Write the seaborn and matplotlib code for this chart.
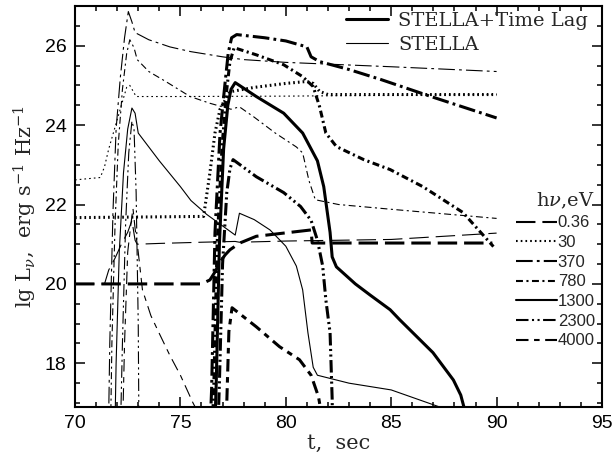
import matplotlib
matplotlib.use("Agg")
import matplotlib.pyplot as plt
from matplotlib.lines import Line2D
from matplotlib.ticker import MultipleLocator
import seaborn as sns
import pandas as pd

# ---------------- data ----------------
energies = ["0.36", "30", "370", "780", "1300", "2300", "4000"]

# STELLA + Time Lag (thick)
t_036_lag = [70, 76.0, 76.4, 76.64, 76.88, 77.12, 77.35, 77.82, 78.6, 79.9, 81.2, 81.25, 89.8]
L_036_lag = [20.0, 20.0, 20.1, 20.3, 20.55, 20.73, 20.86, 21.03, 21.2, 21.28, 21.36, 21.03, 21.03]

t_30_lag = [70, 76.1, 76.4, 76.64, 76.88, 77.35, 78.5, 80.0, 81.0, 81.3, 81.6, 82.0, 90]
L_30_lag = [21.67, 21.7, 22.8, 23.8, 24.4, 24.84, 24.95, 25.05, 25.1, 25.05, 24.85, 24.77, 24.77]

t_370_lag = [76.3, 76.48, 76.64, 76.88, 77.12, 77.27, 77.43, 77.67, 79.0, 80.0, 81.0, 81.2, 81.6, 83.0, 84.5, 87.0, 90]
L_370_lag = [15, 17.33, 21.29, 23.8, 25.07, 25.82, 26.2, 26.28, 26.2, 26.12, 25.97, 25.72, 25.6, 25.4, 25.15, 24.7, 24.18]

t_780_lag = [76.4, 76.58, 76.74, 76.98, 77.2, 77.35, 77.55, 78.6, 79.9, 80.8, 81.3, 81.6, 81.9, 82.4, 83.7, 84.95, 86.5, 88.4, 89.85]
L_780_lag = [15, 17.3, 21.0, 23.5, 24.9, 25.6, 25.95, 25.77, 25.52, 25.22, 24.97, 24.47, 23.8, 23.46, 23.13, 22.88, 22.45, 21.8, 20.94]

t_1300_lag = [76.55, 76.7, 76.85, 77.05, 77.25, 77.4, 77.6, 78.6, 79.9, 80.8, 81.5, 81.8, 82.1, 82.2, 82.4, 83.3, 84.0, 84.95, 85.4, 86.98, 87.95, 88.3, 88.45, 88.55]
L_1300_lag = [15, 17.5, 21.0, 23.4, 24.5, 24.9, 25.07, 24.72, 24.3, 23.8, 23.1, 22.45, 21.3, 20.68, 20.43, 20.0, 19.72, 19.35, 19.1, 18.27, 17.58, 17.2, 16.9, 15]

t_2300_lag = [76.7, 76.85, 77.0, 77.2, 77.35, 77.5, 78.6, 79.9, 80.7, 81.2, 81.5, 81.75, 81.9, 82.1, 82.2, 82.25]
L_2300_lag = [15, 17.5, 20.5, 22.3, 22.9, 23.13, 22.7, 22.3, 21.95, 21.6, 21.1, 20.45, 19.6, 18.77, 17.1, 15]

t_4000_lag = [77.15, 77.2, 77.3, 77.45, 78.6, 79.7, 80.65, 81.2, 81.55, 81.7]
L_4000_lag = [15, 17.0, 18.8, 19.4, 18.92, 18.42, 18.09, 17.7, 17.16, 16.7]

# STELLA (thin)
t_036 = [70, 71.4, 71.6, 71.9, 72.2, 72.5, 72.7, 72.85, 72.95, 74, 76, 77.6, 77.8, 80, 85, 90]
L_036 = [20.0, 20.0, 20.35, 20.65, 21.0, 21.3, 21.6, 21.1, 21.0, 21.02, 21.05, 21.07, 21.05, 21.08, 21.12, 21.28]

t_30 = [70, 71.2, 71.4, 71.6, 71.9, 72.2, 72.45, 72.6, 72.9, 75, 80, 85, 90]
L_30 = [22.62, 22.68, 22.95, 23.4, 23.95, 24.5, 24.95, 25.0, 24.72, 24.72, 24.73, 24.75, 24.77]

t_370 = [71.55, 71.65, 71.8, 71.95, 72.15, 72.35, 72.53, 72.7, 72.85, 73.5, 74.5, 75.5, 77, 78, 80, 85, 90]
L_370 = [15, 18.5, 21.8, 23.9, 25.2, 26.2, 26.86, 26.6, 26.33, 26.15, 25.97, 25.85, 25.72, 25.65, 25.58, 25.47, 25.35]

t_780 = [71.65, 71.75, 71.9, 72.05, 72.25, 72.45, 72.6, 72.8, 72.95, 73.5, 74.3, 75.46, 76.4, 77.4, 77.8, 78.5, 79.5, 80.5, 80.8, 81.1, 81.4, 82.5, 85, 90]
L_780 = [15, 18.5, 21.5, 23.5, 24.9, 25.8, 26.15, 25.95, 25.65, 25.35, 25.1, 24.72, 24.55, 24.4, 24.46, 24.2, 23.8, 23.45, 23.3, 22.6, 22.12, 22.0, 21.88, 21.65]

t_1300 = [71.85, 71.95, 72.1, 72.3, 72.5, 72.7, 72.85, 73.0, 74.0, 75.0, 75.5, 76.25, 77.6, 77.8, 78.5, 79.25, 80.0, 80.5, 80.8, 81.05, 81.3, 81.5, 83, 85, 87.3, 88]
L_1300 = [15, 18.0, 20.8, 22.8, 23.9, 24.43, 24.3, 23.8, 23.1, 22.45, 22.1, 21.75, 21.23, 21.78, 21.62, 21.36, 20.95, 20.45, 19.85, 18.77, 17.9, 17.7, 17.5, 17.33, 16.9, 16.75]

t_2300 = [72.1, 72.25, 72.4, 72.55, 72.7, 72.8, 72.9, 73.0, 73.05]
L_2300 = [15, 18.5, 21.5, 23.3, 24.1, 23.9, 22.3, 19.0, 15]

t_4000 = [72.2, 72.35, 72.5, 72.65, 72.75, 72.85, 73.0, 73.2, 73.6, 74.0, 74.5, 75.0, 75.6, 76]
L_4000 = [15, 18.5, 20.8, 21.5, 21.9, 21.4, 20.8, 19.85, 19.2, 18.75, 18.2, 17.7, 17.0, 16.6]

x_ticks = [70, 75, 80, 85, 90, 95]
y_ticks = [18, 20, 22, 24, 26]

# ---------------- styling ----------------
sns.set_style("ticks")
plt.rcParams["lines.scale_dashes"] = False
plt.rcParams["font.family"] = ["Liberation Sans", "DejaVu Sans"]
plt.rcParams["mathtext.fontset"] = "dejavuserif"

styles = {
    "0.36": (0, (14, 5)),
    "30": (0, (1.2, 2.2)),
    "370": (0, (12, 3, 2, 3)),
    "780": (0, (5, 2.5, 1.5, 2.5)),
    "1300": "-",
    "2300": (0, (9, 2.5, 1.5, 2.5, 1.5, 2.5)),
    "4000": (0, (9, 4, 4, 4)),
}

lag = {"0.36": (t_036_lag, L_036_lag), "30": (t_30_lag, L_30_lag),
       "370": (t_370_lag, L_370_lag), "780": (t_780_lag, L_780_lag),
       "1300": (t_1300_lag, L_1300_lag), "2300": (t_2300_lag, L_2300_lag),
       "4000": (t_4000_lag, L_4000_lag)}
nolag = {"0.36": (t_036, L_036), "30": (t_30, L_30),
         "370": (t_370, L_370), "780": (t_780, L_780),
         "1300": (t_1300, L_1300), "2300": (t_2300, L_2300),
         "4000": (t_4000, L_4000)}

THICK = 2.2
THIN = 0.8

fig = plt.figure(figsize=(6.12, 4.58), dpi=100)
ax = fig.add_axes([75 / 612, (458 - 407) / 458, 527 / 612, 401 / 458])

for e in energies:
    t, L = nolag[e]
    sns.lineplot(x=t, y=L, ax=ax, color="black", lw=THIN, linestyle=styles[e],
                 sort=False, estimator=None, legend=False)
for e in energies:
    t, L = lag[e]
    sns.lineplot(x=t, y=L, ax=ax, color="black", lw=THICK, linestyle=styles[e],
                 sort=False, estimator=None, legend=False)

ax.set_xlim(70, 95)
ax.set_ylim(16.9, 27.0)
ax.set_xticks(x_ticks)
ax.set_yticks(y_ticks)
ax.xaxis.set_minor_locator(MultipleLocator(1))
ax.yaxis.set_minor_locator(MultipleLocator(0.5))
ax.tick_params(which="both", direction="in", top=True, right=True, width=1.1,
               labelsize=14, colors="black")
ax.tick_params(which="major", length=7, pad=6)
ax.tick_params(which="minor", length=3.5)
for s in ax.spines.values():
    s.set_linewidth(1.5)
    s.set_color("black")

ax.set_xlabel("t,  sec", family="DejaVu Serif", fontsize=15, labelpad=1)
ax.set_ylabel(r"lg L$_{\nu}$,  erg s$^{-1}$ Hz$^{-1}$", family="DejaVu Serif",
              fontsize=15, labelpad=4)

# legend 1: model type
h1 = [Line2D([], [], color="black", lw=THICK), Line2D([], [], color="black", lw=THIN)]
leg1 = ax.legend(h1, ["STELLA+Time Lag", "STELLA"], loc="upper left",
                 bbox_to_anchor=(0.515, 0.985), frameon=False, borderpad=0,
                 borderaxespad=0, handlelength=2.15, handletextpad=0.5,
                 labelspacing=0.3, prop={"family": "DejaVu Serif", "size": 14})
ax.add_artist(leg1)

# legend 2: photon energies
h2 = [Line2D([], [], color="black", lw=1.5, linestyle=styles[e]) for e in energies]
leg2 = ax.legend(h2, energies, loc="upper left", bbox_to_anchor=(0.837, 0.54),
                 frameon=False, borderpad=0, borderaxespad=0, handlelength=2.45,
                 handletextpad=0.05, labelspacing=0.28,
                 prop={"family": "Liberation Sans", "size": 12},
                 title=r"h$\nu$,eV", alignment="right",
                 title_fontproperties={"family": "DejaVu Serif", "size": 14})

fig.savefig("out.png", dpi=100)
